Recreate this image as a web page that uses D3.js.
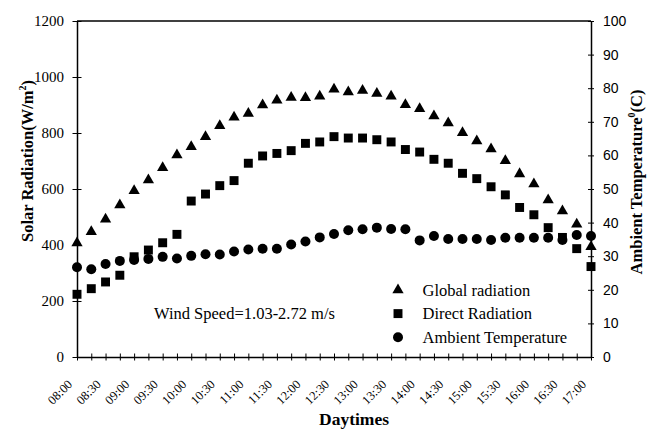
<!DOCTYPE html>
<html>
<head>
<meta charset="utf-8">
<script src="https://cdn.jsdelivr.net/npm/d3@7"></script>
<style>
  body { margin: 0; background: #fff; }
  svg { display: block; }
</style>
</head>
<body>
<div id="chart"></div>
<script>
// Daytimes, every 15 minutes
var times = ["08:00","08:15","08:30","08:45","09:00","09:15","09:30","09:45",
    "10:00","10:15","10:30","10:45","11:00","11:15","11:30","11:45",
    "12:00","12:15","12:30","12:45","13:00","13:15","13:30","13:45",
    "14:00","14:15","14:30","14:45","15:00","15:15","15:30","15:45",
    "16:00","16:15","16:30","16:45","17:00"];

// x tick labels (every 30 minutes)
var timeLabels = ["08:00","08:30","09:00","09:30","10:00","10:30","11:00","11:30",
    "12:00","12:30","13:00","13:30","14:00","14:30","15:00","15:30","16:00","16:30","17:00"];

// Global radiation (W/m2)
var globalRad = [407,447,492,543,594,632,676,721,751,787,826,856,870,900,917,927,
    926,931,956,946,952,941,931,901,887,861,836,801,771,743,701,654,618,561,521,474,394];

// Direct radiation (W/m2)
var directRad = [224,244,268,292,358,382,408,438,557,582,612,630,692,718,727,737,
    763,768,787,782,782,776,768,741,732,706,692,656,637,608,579,534,508,462,427,387,323];

// Ambient temperature (C)
var ambientTemp = [26.7,26.1,27.7,28.6,28.9,29.2,29.8,29.3,30.1,30.6,30.5,31.4,32.0,32.2,32.2,33.5,
    34.4,35.6,36.6,37.7,38.0,38.5,38.1,38.0,34.7,36.0,35.1,35.1,35.1,34.8,35.5,35.5,35.5,35.5,34.8,36.3,36.0];

var leftTicks = [0,200,400,600,800,1000,1200];
var rightTicks = [0,10,20,30,40,50,60,70,80,90,100];

var W = 647, H = 430;
var margin = { left:77, right:56, top:21, bottom:73 };
var width = W - margin.left - margin.right,
    height = H - margin.top - margin.bottom;

var svg = d3.select("#chart").append("svg")
    .attr("width", W).attr("height", H)
  .append("g")
    .attr("transform", "translate(" + margin.left + "," + margin.top + ")");

var x = d3.scalePoint().domain(times).range([0, width]).padding(0);
var yL = d3.scaleLinear().domain([0, 1200]).range([height, 0]);
var yR = d3.scaleLinear().domain([0, 100]).range([height, 0]);

var serif = "'Liberation Serif', 'Times New Roman', serif";
var sans = "'Liberation Sans', Arial, sans-serif";

// top frame line
svg.append("line")
    .attr("x1", 0).attr("x2", width).attr("y1", 0).attr("y2", 0)
    .attr("stroke", "#000").attr("stroke-width", 1.5);

// X axis (ticks only, labels drawn separately)
var xAxis = svg.append("g")
    .attr("transform", "translate(0," + height + ")")
    .call(d3.axisBottom(x).tickSize(0).tickFormat(""));
xAxis.select(".domain").attr("stroke-width", 1.5);
xAxis.selectAll(".tick line").attr("y1", -3.5).attr("y2", 3.5).attr("stroke-width", 1);

// rotated x labels
svg.append("g").selectAll("text").data(timeLabels).enter()
    .append("text")
    .attr("transform", function(d){ return "translate(" + (x(d) - 4) + "," + (height + 28) + ") rotate(-45)"; })
    .attr("text-anchor", "end")
    .attr("font-family", serif).attr("font-size", "12.5px")
    .text(function(d){ return d; });

// Left Y axis
var yAxisL = svg.append("g")
    .call(d3.axisLeft(yL).tickValues(leftTicks).tickSize(0).tickPadding(13).tickFormat(d3.format("d")));
yAxisL.select(".domain").attr("stroke-width", 1.5);
yAxisL.selectAll(".tick line").attr("x1", -4.5).attr("x2", 4.5);
yAxisL.selectAll(".tick text")
    .attr("font-family", serif).attr("font-size", "15px").attr("fill", "#000");

// Right Y axis
var yAxisR = svg.append("g")
    .attr("transform", "translate(" + width + ",0)")
    .call(d3.axisRight(yR).tickValues(rightTicks).tickSize(0).tickPadding(12));
yAxisR.select(".domain").attr("stroke-width", 1.5);
yAxisR.selectAll(".tick line").attr("x1", -3).attr("x2", 3);
yAxisR.selectAll(".tick text")
    .attr("font-family", sans).attr("font-size", "14px").attr("fill", "#000");

// Markers
var triangle = d3.symbol().type(d3.symbolTriangle).size(55);
var square = d3.symbol().type(d3.symbolSquare).size(80);

svg.selectAll(".dir").data(directRad).enter()
    .append("path").attr("class", "dir")
    .attr("d", square)
    .attr("transform", function(d, i){ return "translate(" + x(times[i]) + "," + yL(d) + ")"; })
    .attr("fill", "#000");

svg.selectAll(".glob").data(globalRad).enter()
    .append("path").attr("class", "glob")
    .attr("d", triangle)
    .attr("transform", function(d, i){ return "translate(" + x(times[i]) + "," + yL(d) + ")"; })
    .attr("fill", "#000");

svg.selectAll(".amb").data(ambientTemp).enter()
    .append("circle").attr("class", "amb")
    .attr("cx", function(d, i){ return x(times[i]); })
    .attr("cy", function(d){ return yR(d); })
    .attr("r", 5)
    .attr("fill", "#000");

// Legend
var legend = [
    { name: "Global radiation", sym: "tri" },
    { name: "Direct Radiation", sym: "sq" },
    { name: "Ambient Temperature", sym: "circ" }
];
var lg = svg.append("g").attr("transform", "translate(" + (398 - margin.left) + "," + (290 - margin.top) + ")");
legend.forEach(function(d, i){
    var row = lg.append("g").attr("transform", "translate(0," + (i * 23.6) + ")");
    if (d.sym === "tri") row.append("path").attr("d", triangle).attr("fill", "#000");
    else if (d.sym === "sq") row.append("path").attr("d", square).attr("fill", "#000");
    else row.append("circle").attr("r", 5).attr("fill", "#000");
    row.append("text").attr("x", 24.5).attr("dy", "0.35em")
        .attr("font-family", serif).attr("font-size", "16.5px")
        .text(d.name);
});

// Wind speed note
svg.append("text")
    .attr("x", 154 - margin.left).attr("y", 313 - margin.top).attr("dy", "0.35em")
    .attr("font-family", serif).attr("font-size", "16.5px")
    .text("Wind Speed=1.03-2.72 m/s");

// X label
svg.append("text")
    .attr("x", 354 - margin.left).attr("y", 425 - margin.top)
    .attr("text-anchor", "middle")
    .attr("font-family", serif).attr("font-size", "17.5px").attr("font-weight", "bold")
    .text("Daytimes");

// Left Y label
var ly = svg.append("text")
    .attr("transform", "translate(" + (33 - margin.left) + "," + (161 - margin.top) + ") rotate(-90)")
    .attr("text-anchor", "middle")
    .attr("font-family", serif).attr("font-size", "16.5px").attr("font-weight", "bold");
ly.append("tspan").text("Solar Radiation(W/m");
ly.append("tspan").attr("font-size", "10px").attr("dy", "-7").text("2");
ly.append("tspan").attr("dy", "7").text(")");

// Right Y label
var ry = svg.append("text")
    .attr("transform", "translate(" + (642 - margin.left) + "," + (182 - margin.top) + ") rotate(-90)")
    .attr("text-anchor", "middle")
    .attr("font-family", serif).attr("font-size", "16.5px").attr("font-weight", "bold");
ry.append("tspan").text("Ambient Temperature");
ry.append("tspan").attr("font-size", "10px").attr("dy", "-7").text("0");
ry.append("tspan").attr("dy", "7").text("(C)");
</script>
</body>
</html>
